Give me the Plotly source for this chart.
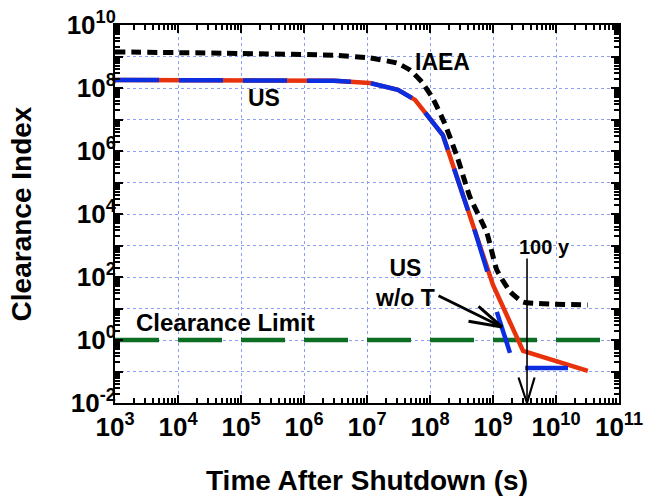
import plotly.graph_objects as go

# ---- data ----
iaea_x = [1e3, 1e5, 3e6, 1.1e7, 3e7, 4.8e7, 7.4e7, 1.1e8, 1.7e8, 2.7e8, 4.3e8, 8e8, 1.15e9, 1.9e9, 3e9, 3.2e10]
iaea_y = [1.4e9, 1.25e9, 1.1e9, 9e8, 6.2e8, 3.7e8, 1.55e8, 4.8e7, 7.8e6, 6.5e5, 3.5e4, 2.5e3, 1.66e2, 33, 16, 13]

us_x = [1e3, 3e6, 1.1e7, 3.1e7, 5.8e7, 1e8, 1.6e8, 1e9, 1.6e9, 3e9, 3.2e10]
us_y = [1.8e8, 1.7e8, 1.45e8, 8.7e7, 4.2e7, 1.1e7, 3.2e6, 56, 7.1, 0.45, 0.105]

uswot_x = [1e3, 3e6, 1.1e7, 3.1e7, 5.8e7, 1e8, 1.6e8, 5e8, 1e9, None, 1.15e9, 1.86e9, None, 3.24e9, 1.55e10]
uswot_y = [1.8e8, 1.7e8, 1.45e8, 8.7e7, 4.2e7, 1.1e7, 3.2e6, 3.5e3, 39, None, 7.8, 0.39, None, 0.129, 0.129]

limit_x = [1e3, 1e11]
limit_y = [1, 1]

x_tickvals = [10 ** k for k in range(3, 12)]
x_ticktext = ["10<sup>%d</sup>" % k for k in range(3, 12)]
y_tickvals = [10.0 ** k for k in range(-2, 11)]
y_ticktext = ["10<sup>%d</sup>" % k if k % 2 == 0 else "" for k in range(-2, 11)]

FONT = "Liberation Sans, Arial, Helvetica, sans-serif"

fig = go.Figure()
fig.add_trace(go.Scatter(x=limit_x, y=limit_y, mode="lines",
                         line=dict(color="#0b6e23", width=4.5, dash="44px,19px"),
                         showlegend=False, hoverinfo="skip"))
fig.add_trace(go.Scatter(x=us_x, y=us_y, mode="lines",
                         line=dict(color="#e8320c", width=4.5),
                         showlegend=False))
fig.add_trace(go.Scatter(x=uswot_x, y=uswot_y, mode="lines", connectgaps=False,
                         line=dict(color="#0b2ee0", width=4.5, dash="44px,20px"),
                         showlegend=False))
fig.add_trace(go.Scatter(x=iaea_x, y=iaea_y, mode="lines",
                         line=dict(color="black", width=5, dash="10px,6px", shape="spline", smoothing=0.4),
                         showlegend=False))

ann_font = dict(family=FONT, size=23, color="black", weight="bold")
annotations = [
    dict(x=8.206, y=8.83, text="IAEA", showarrow=False, font=ann_font),
    dict(x=5.365, y=7.68, text="US", showarrow=False, font=ann_font),
    dict(x=4.746, y=0.571, text="Clearance Limit", showarrow=False, font=dict(family=FONT, size=24, color="black", weight="bold")),
    dict(x=7.603, y=1.825, text="US<br>w/o T", showarrow=False, font=dict(family=FONT, size=23, color="black", weight="bold")),
    dict(x=9.81, y=2.952, text="100 y", showarrow=False, font=dict(family=FONT, size=20, color="black", weight="bold")),
]
# arrow to US w/o T
tipx, tipy = 9.143, 0.413
for ax_, ay_ in [(-65, -32), (-35, -6), (-25, -22)]:
    annotations.append(dict(x=tipx, y=tipy, ax=ax_, ay=ay_, text="", showarrow=True,
                            arrowhead=0, arrowwidth=3, arrowcolor="black", standoff=0, startstandoff=0))
# 100 y vertical marker
vx, vy = 9.54, -2
for ax_, ay_, w in [(0, -146, 1.6), (-9, -27, 2.2), (8, -27, 2.2)]:
    annotations.append(dict(x=vx, y=vy, ax=ax_, ay=ay_, text="", showarrow=True,
                            arrowhead=0, arrowwidth=w, arrowcolor="black", standoff=0, startstandoff=0))

axis_common = dict(
    type="log", showline=True, linecolor="black", linewidth=2, mirror="ticks",
    ticks="inside", ticklen=8, tickwidth=2, tickcolor="black",
    showgrid=True, gridcolor="#8c9ff5", gridwidth=1, griddash="3px,3px",
    tickfont=dict(family=FONT, size=26, color="black", weight="bold"),
    ticklabeloverflow="allow", automargin=False,
    minor=dict(ticks="inside", ticklen=5, tickwidth=1.5, tickcolor="black", dtick="D1", showgrid=False),
    zeroline=False,
)

fig.update_layout(
    width=655, height=498,
    margin=dict(l=115, r=36, t=25, b=95),
    paper_bgcolor="white", plot_bgcolor="white",
    showlegend=False,
    annotations=annotations,
    xaxis=dict(axis_common, range=[3, 11], tickvals=x_tickvals, ticktext=x_ticktext,
               title=dict(text="Time After Shutdown (s)", font=dict(family=FONT, size=28, color="black", weight="bold"), standoff=29)),
    yaxis=dict(axis_common, range=[-2, 10], tickvals=y_tickvals, ticktext=y_ticktext,
               ticklabelstandoff=-8,
               title=dict(text="Clearance Index", font=dict(family=FONT, size=28, color="black", weight="bold"), standoff=27)),
)

# remove the default 8px page margin so the figure sits at the window's top-left corner
fig.write_html("out.html", config={"displayModeBar": False},
               post_script="document.body.style.margin='0px';")
